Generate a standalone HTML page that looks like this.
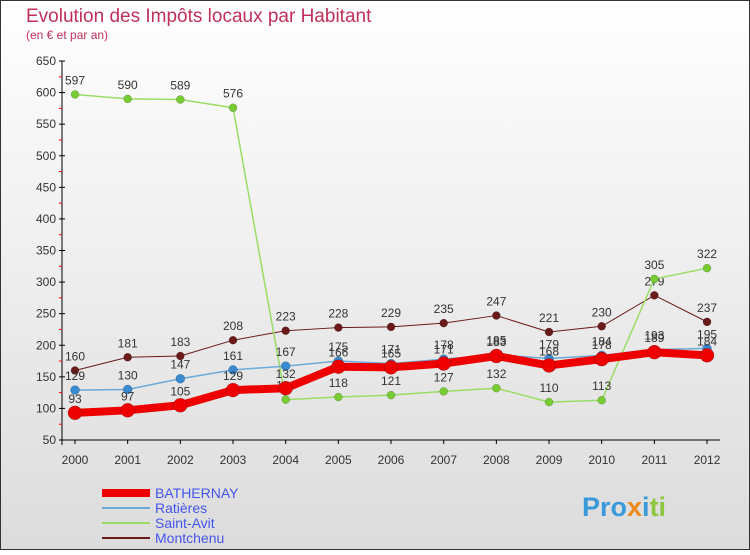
<!DOCTYPE html>
<html><head><meta charset="utf-8"><style>
body{margin:0;width:750px;height:550px;overflow:hidden;font-family:"Liberation Sans",sans-serif}
</style></head><body>
<svg width="750" height="550" xmlns="http://www.w3.org/2000/svg">
<defs><linearGradient id="bg" x1="0" y1="0" x2="0" y2="1"><stop offset="0" stop-color="#ffffff"/><stop offset="1" stop-color="#dcdcdc"/></linearGradient></defs>
<rect x="0.5" y="0.5" width="749" height="549" fill="url(#bg)" stroke="#333"/>
<text x="26" y="22" font-size="19" fill="#c0305a">Evolution des Impôts locaux par Habitant</text>
<text x="26" y="39" font-size="12" fill="#c0305a">(en € et par an)</text>
<g id="axes"></g><g id="series"></g><g id="legend"></g>
<text x="582" y="516" font-size="27" font-weight="bold" fill="#3a9ad9">Pro<tspan fill="#f08a1c">x</tspan><tspan fill="#3a9ad9">i</tspan><tspan fill="#8dc63f">ti</tspan></text>
</svg>
<script>
const years=[2000,2001,2002,2003,2004,2005,2006,2007,2008,2009,2010,2011,2012];
const yTicks=[50,100,150,200,250,300,350,400,450,500,550,600,650];
const bathernay=[93,97,105,129,132,166,165,171,183,168,178,189,184];
const ratieres=[129,130,147,161,167,175,171,178,185,179,184,193,195];
const saintAvit=[597,590,589,576,114,118,121,127,132,110,113,305,322];
const montchenu=[160,181,183,208,223,228,229,235,247,221,230,279,237];
const NS="http://www.w3.org/2000/svg";
const xS=i=>75+i*52.67;
const yS=v=>440-(v-50)*(379/600);
function mk(t,a,p){const e=document.createElementNS(NS,t);for(const k in a)e.setAttribute(k,a[k]);p.appendChild(e);return e;}
const ax=document.getElementById('axes');
let l=mk('line',{x1:62,y1:61,x2:62,y2:445,stroke:'#000'},ax);


l=mk('line',{x1:62,y1:440,x2:720,y2:440,stroke:'#000'},ax);


yTicks.forEach((v,i)=>{const y=yS(v);
mk('line',{x1:59,y1:y,x2:65,y2:y,stroke:'#000'},ax);
if(i<yTicks.length-1)mk('line',{x1:59,y1:y-15.8,x2:62,y2:y-15.8,stroke:'#f00'},ax);
const t=mk('text',{x:56,y:y+4,'font-size':12,'text-anchor':'end',fill:'#333'},ax);t.textContent=v;

});
years.forEach((yr,i)=>{const x=xS(i);
mk('line',{x1:x,y1:440,x2:x,y2:444,stroke:'#000'},ax);
const t=mk('text',{x:x,y:464,'font-size':12,'text-anchor':'middle',fill:'#333'},ax);t.textContent=yr;

});
const sg=document.getElementById('series');
const series=[
{name:'montchenu',data:montchenu,c:'#6b1a1a',w:1,r:4,fill:'#6b1a1a'},
{name:'saint-avit',data:saintAvit,c:'#99dd66',w:1.5,r:4,fill:'#77cc33'},
{name:'ratieres',data:ratieres,c:'#6aaad8',w:1.5,r:4.5,fill:'#3a8ad0'},
{name:'bathernay',data:bathernay,c:'#ee0000',w:8,r:7,fill:'#ee0000'}];
series.forEach(s=>{const g=mk('g',{},sg);


const p=mk('polyline',{points:s.data.map((v,i)=>xS(i)+','+yS(v)).join(' '),fill:'none',stroke:s.c,'stroke-width':s.w,'stroke-linejoin':'round'},g);


s.data.forEach((v,i)=>{const c=mk('circle',{cx:xS(i),cy:yS(v),r:s.r,fill:s.fill,stroke:'rgba(0,0,0,0.3)','stroke-width':0.5},g);


const t=mk('text',{x:xS(i),y:yS(v)-10,'font-size':12,'text-anchor':'middle',fill:'#333'},g);t.textContent=v;

});});
const lg=document.getElementById('legend');
[['BATHERNAY','#ee0000',8],['Ratières','#6aaad8',2],['Saint-Avit','#99dd66',2],['Montchenu','#6b1a1a',2]].forEach((e,i)=>{const y=493+i*15;
const g=mk('g',{},lg);


mk('line',{x1:102,y1:y,x2:150,y2:y,stroke:e[1],'stroke-width':e[2]},g);
const t=mk('text',{x:155,y:y+5,'font-size':14,fill:'#4455ee'},g);t.textContent=e[0];});
</script>
</body></html>
